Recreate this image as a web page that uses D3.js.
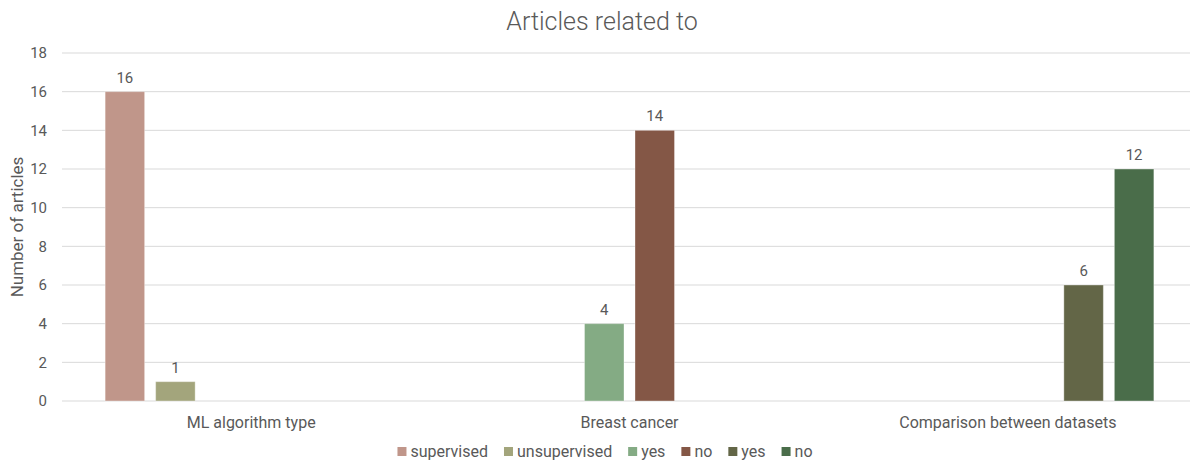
<!DOCTYPE html>
<html><head><meta charset="utf-8">
<script src="https://cdn.jsdelivr.net/npm/d3@7"></script>
<style>body{margin:0;background:#fff}svg{display:block;font-family:Roboto,"Noto Sans",sans-serif}</style>
</head><body><svg id="c" width="1190" height="462"></svg>
<script>
const categories = ["ML algorithm type", "Breast cancer", "Comparison between datasets"];
const seriesNames = ["supervised", "unsupervised", "yes", "no", "yes", "no"];
const seriesColors = ["#C0968A", "#A3A57C", "#84AB84", "#845746", "#636647", "#4A6D4A"];
// values per series, one per category (null = no bar)
const supervised = [16, null, null];
const unsupervised = [1, null, null];
const bcYes = [null, 4, null];
const bcNo = [null, 14, null];
const cmpYes = [null, null, 6];
const cmpNo = [null, null, 12];
const seriesValues = [supervised, unsupervised, bcYes, bcNo, cmpYes, cmpNo];
const yTicks = [0, 2, 4, 6, 8, 10, 12, 14, 16, 18];

const svg = d3.select("#c");
const pLeft = 62, pRight = 1197, pTop = 53, pBottom = 401;
const x0 = d3.scaleBand().domain(categories).range([pLeft, pRight]).paddingInner(0).paddingOuter(0);
const x1 = d3.scaleBand().domain(d3.range(seriesNames.length)).range([0, x0.bandwidth()]).paddingInner(0.218).paddingOuter(0.854);
const y = d3.scaleLinear().domain([0, 18]).range([pBottom, pTop]);

const textCol = "#595959";
// gridlines
svg.append("g").selectAll("line").data(yTicks).join("line")
  .attr("x1", pLeft).attr("x2", 1190)
  .attr("y1", d => y(d)).attr("y2", d => y(d))
  .attr("stroke", "#d9d9d9").attr("stroke-width", 1);

// y axis labels
const yAxis = d3.axisLeft(y).tickValues(yTicks).tickSize(0).tickPadding(0);
const ya = svg.append("g").attr("transform", `translate(${pLeft - 15},0)`).call(yAxis);
ya.select(".domain").remove();
ya.selectAll("text").attr("fill", textCol).style("font-size", "15px").style("font-family", "Roboto");

// x axis labels
const xAxis = d3.axisBottom(x0).tickSize(0).tickPadding(0);
const xa = svg.append("g").attr("transform", `translate(0,${pBottom + 16})`).call(xAxis);
xa.select(".domain").remove();
xa.selectAll("text").attr("fill", textCol).style("font-size", "16px").style("font-family", "Roboto");

// bars
const bars = [];
seriesValues.forEach((vals, si) => vals.forEach((v, ci) => { if (v != null) bars.push({si, ci, v}); }));
svg.append("g").selectAll("rect").data(bars).join("rect")
  .attr("x", d => x0(categories[d.ci]) + x1(d.si))
  .attr("width", x1.bandwidth())
  .attr("y", d => y(d.v))
  .attr("height", d => y(0) - y(d.v))
  .attr("fill", d => seriesColors[d.si])
  .attr("stroke", "rgba(255,255,255,0.35)").attr("stroke-width", 1);

svg.append("g").selectAll("text").data(bars).join("text")
  .attr("x", d => x0(categories[d.ci]) + x1(d.si) + x1.bandwidth() / 2)
  .attr("y", d => y(d.v) - 9)
  .attr("text-anchor", "middle").attr("fill", textCol)
  .style("font-size", "15px").text(d => d.v);

// title
svg.append("text").attr("x", 602).attr("y", 30).attr("text-anchor", "middle")
  .attr("fill", textCol).style("font-size", "25px").style("font-weight", 300).text("Articles related to");

// y title
svg.append("text").attr("transform", `translate(23,${(pTop + pBottom) / 2}) rotate(-90)`)
  .attr("text-anchor", "middle").attr("fill", textCol).style("font-size", "17px").text("Number of articles");

// legend
const lg = svg.append("g");
let lx = 0;
seriesNames.forEach((n, i) => {
  const g = lg.append("g").attr("transform", `translate(${lx},0)`);
  g.append("rect").attr("x", 0).attr("y", -10).attr("width", 9).attr("height", 9).attr("fill", seriesColors[i]);
  const t = g.append("text").attr("x", 13).attr("y", 0).attr("fill", textCol).style("font-size", "16px").text(n);
  const w = t.node().getComputedTextLength();
  lx += 13 + w + 16;
});
const totalW = lx - 16;
lg.attr("transform", `translate(${605 - totalW / 2},457)`);
</script></body></html>
